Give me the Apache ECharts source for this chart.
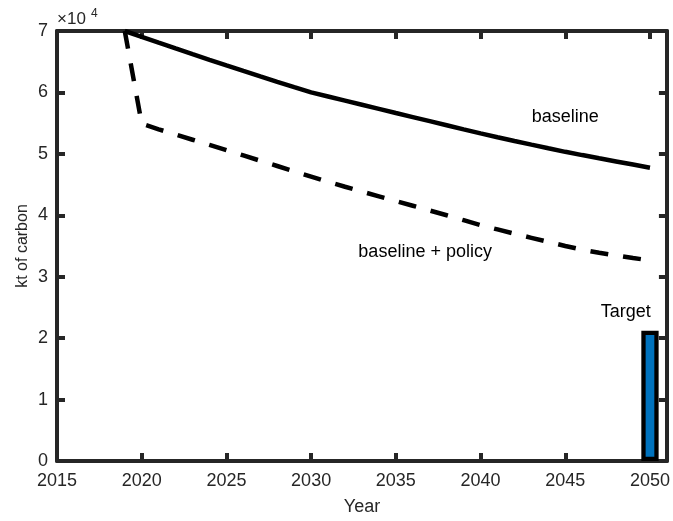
<!DOCTYPE html>
<html>
<head>
<meta charset="utf-8">
<script src="https://cdn.jsdelivr.net/npm/echarts@6/dist/echarts.min.js"></script>
<style>
html,body{margin:0;padding:0;background:#fff;}
#chart{width:673px;height:521px;}
</style>
</head>
<body>
<div id="chart"></div>
<script>
// ---- data ----
const years = [2019,2020,2021,2022,2023,2024,2025,2026,2027,2028,2029,2030,2031,2032,2033,2034,2035,2036,2037,2038,2039,2040,2041,2042,2043,2044,2045,2046,2047,2048,2049,2050];
const baseline = [70000,69050,68100,67160,66230,65310,64400,63500,62610,61730,60860,60000,59330,58660,57990,57320,56650,55985,55320,54655,53990,53330,52710,52100,51500,50910,50330,49800,49280,48770,48260,47750];
const policy = [70000,54900,54000,53150,52300,51450,50600,49740,48880,48020,47160,46300,45440,44640,43860,43090,42320,41550,40780,40000,39200,38400,37700,37000,36330,35660,35000,34400,33900,33450,33040,32650];
const targetYears = [2050];
const targetValues = [21200];
const annotationTexts = ['baseline', 'baseline + policy', 'Target'];
const xTickLabels = ['2015','2020','2025','2030','2035','2040','2045','2050'];
const yTickLabels = ['0','1','2','3','4','5','6','7'];
const xName = 'Year';
const yName = 'kt of carbon';
const exponentBase = '×10';
const exponentPower = '4';

const axisColor = '#262626';
const FONT = 'Liberation Sans';

const chart = echarts.init(document.getElementById('chart'), null, {renderer: 'canvas'});

function pairs(xs, ys) { return xs.map((x, i) => [x, ys[i]]); }

const baseAxis = {
  type: 'value',
  axisLine: {show: true, onZero: false, lineStyle: {color: axisColor, width: 4}},
  axisTick: {show: true, inside: true, length: 8, lineStyle: {color: axisColor, width: 4}},
  splitLine: {show: false}
};

const option = {
  animation: false,
  backgroundColor: '#fff',
  grid: {left: 57, right: 5, top: 31, bottom: 60, containLabel: false},
  xAxis: [
    Object.assign({}, baseAxis, {
      position: 'bottom', min: 2015, max: 2051, interval: 5,
      name: xName, nameLocation: 'middle', nameGap: 37, nameMoveOverlap: false,
      nameTextStyle: {fontFamily: FONT, fontSize: 18, color: axisColor},
      axisLabel: {
        show: true, margin: 11, fontFamily: FONT, fontSize: 18, color: axisColor,
        formatter: v => { const i = xTickLabels.indexOf(String(v)); return i >= 0 ? xTickLabels[i] : ''; }
      }
    }),
    Object.assign({}, baseAxis, {
      position: 'top', min: 2015, max: 2051, interval: 5,
      axisLabel: {show: false}
    })
  ],
  yAxis: [
    Object.assign({}, baseAxis, {
      position: 'left', min: 0, max: 70000, interval: 10000,
      name: yName, nameLocation: 'middle', nameGap: 26, nameMoveOverlap: false,
      nameTextStyle: {fontFamily: FONT, fontSize: 16, color: axisColor},
      axisLabel: {
        show: true, margin: 9, fontFamily: FONT, fontSize: 18, color: axisColor,
        formatter: v => yTickLabels[Math.round(v / 10000)] || ''
      }
    }),
    Object.assign({}, baseAxis, {
      position: 'right', min: 0, max: 70000, interval: 10000,
      axisLabel: {show: false}
    })
  ],
  graphic: [
    {type: 'text', left: 57, top: 11, z: 10,
     style: {text: exponentBase, fontFamily: FONT, fontSize: 17, fill: axisColor}},
    {type: 'text', left: 91, top: 8, z: 10,
     style: {text: exponentPower, fontFamily: FONT, fontSize: 12, fill: axisColor}}
  ],
  series: [
    {
      name: 'baseline', type: 'line', xAxisIndex: 0, yAxisIndex: 0,
      data: pairs(years, baseline), showSymbol: false, symbol: 'none', smooth: false,
      lineStyle: {color: '#000', width: 4.5, type: 'solid'}, z: 3
    },
    {
      name: 'baseline + policy', type: 'line', xAxisIndex: 0, yAxisIndex: 0,
      data: pairs(years, policy), showSymbol: false, symbol: 'none', smooth: false,
      lineStyle: {color: '#000', width: 4.5, type: [18, 15], cap: 'butt'}, z: 3
    },
    {
      name: 'Target', type: 'bar', xAxisIndex: 0, yAxisIndex: 0,
      data: pairs(targetYears, targetValues), barWidth: 17.3,
      itemStyle: {color: '#0072BD', borderColor: '#000', borderWidth: 4.3}, z: 3
    },
    {
      name: 'annotations', type: 'scatter', xAxisIndex: 0, yAxisIndex: 0,
      symbolSize: 2, itemStyle: {color: 'rgba(0,0,0,0)'}, silent: true, z: 4,
      label: {show: true, position: 'inside', fontFamily: FONT, fontSize: 18, color: '#000',
              opacity: 1, textBorderWidth: 0, formatter: p => p.name},
      labelLayout: {hideOverlap: false},
      data: [
        {name: annotationTexts[0], value: [2045.0, 56000]},
        {name: annotationTexts[1], value: [2036.73, 34000]},
        {name: annotationTexts[2], value: [2048.57, 24200]}
      ]
    }
  ]
};
chart.setOption(option);
</script>
</body>
</html>
